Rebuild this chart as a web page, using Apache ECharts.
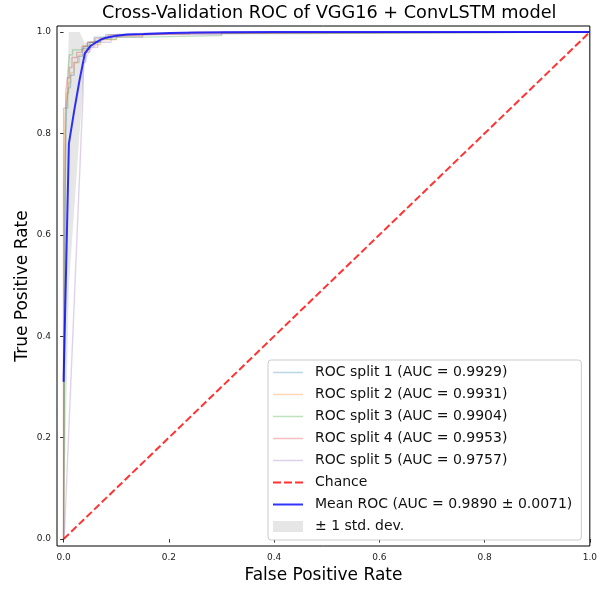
<!DOCTYPE html>
<html>
<head>
<meta charset="utf-8">
<script src="https://cdn.jsdelivr.net/npm/echarts@6/dist/echarts.min.js"></script>
<style>
  html, body { margin: 0; padding: 0; background: #ffffff; }
  #chart { width: 600px; height: 589px; }
</style>
</head>
<body>
<div id="chart"></div>
<script>
// Tick positions shared by both axes
const tickValues = [0, 0.2, 0.4, 0.6, 0.8, 1.0];

// Per-split ROC curves as [fpr, tpr] pairs
const split1 = [[0,0],[0.002,0.0],[0.002,0.62],[0.004,0.62],[0.004,0.80],[0.006,0.80],[0.006,0.86],[0.009,0.86],[0.009,0.89],[0.013,0.89],[0.013,0.915],[0.02,0.915],[0.02,0.94],[0.027,0.94],[0.027,0.952],[0.036,0.952],[0.036,0.968],[0.046,0.968],[0.046,0.98],[0.058,0.98],[0.058,0.99],[0.08,0.99],[0.08,0.995],[0.12,0.995],[0.12,0.997],[0.24,0.997],[0.24,1],[1,1]];
const split2 = [[0,0],[0,0.70],[0.003,0.70],[0.003,0.84],[0.006,0.84],[0.006,0.88],[0.01,0.88],[0.01,0.90],[0.014,0.90],[0.014,0.92],[0.02,0.92],[0.02,0.94],[0.03,0.94],[0.03,0.955],[0.04,0.955],[0.04,0.965],[0.05,0.965],[0.05,0.975],[0.07,0.975],[0.07,0.985],[0.1,0.985],[0.1,0.992],[0.15,0.992],[0.15,0.996],[0.24,0.996],[0.24,1],[1,1]];
const split3 = [[0,0],[0.003,0.6],[0.004,0.6],[0.004,0.85],[0.008,0.85],[0.008,0.915],[0.011,0.915],[0.011,0.955],[0.017,0.955],[0.017,0.965],[0.038,0.965],[0.038,0.972],[0.05,0.972],[0.05,0.98],[0.07,0.98],[0.07,0.986],[0.1,0.986],[0.1,0.99],[0.15,0.99],[0.15,0.993],[0.3,0.993],[0.3,0.997],[0.45,0.997],[0.45,1],[1,1]];
const split4 = [[0,0],[0,0.85],[0.004,0.85],[0.004,0.88],[0.007,0.88],[0.007,0.91],[0.011,0.91],[0.011,0.93],[0.016,0.93],[0.016,0.95],[0.025,0.95],[0.025,0.96],[0.035,0.96],[0.035,0.972],[0.045,0.972],[0.045,0.98],[0.06,0.98],[0.06,0.988],[0.085,0.988],[0.085,0.994],[0.13,0.994],[0.13,0.997],[0.25,0.997],[0.25,1],[1,1]];
const split5 = [[0,0],[0.002,0.02],[0.037,0.88],[0.037,0.94],[0.042,0.94],[0.042,0.96],[0.05,0.96],[0.05,0.97],[0.065,0.97],[0.065,0.98],[0.09,0.98],[0.09,0.99],[0.15,0.99],[0.15,0.995],[0.3,0.995],[0.3,1],[1,1]];

const splitNames = [
  'ROC split 1 (AUC = 0.9929)',
  'ROC split 2 (AUC = 0.9931)',
  'ROC split 3 (AUC = 0.9904)',
  'ROC split 4 (AUC = 0.9953)',
  'ROC split 5 (AUC = 0.9757)'
];
const splitColors = [
  'rgba(31,119,180,0.3)',
  'rgba(255,127,14,0.3)',
  'rgba(44,160,44,0.3)',
  'rgba(214,39,40,0.3)',
  'rgba(148,103,189,0.3)'
];

// Mean ROC and its +/- 1 std. dev. envelope
const meanFpr  = [0, 0.0101, 0.0202, 0.0303, 0.0404, 0.0505, 0.0606, 0.0707, 0.0808, 0.0909, 0.1010, 0.1212, 0.1515, 0.2020, 0.2525, 0.3030, 0.4040, 0.5051, 1.0];
const meanTpr  = [0.31, 0.78, 0.845, 0.905, 0.958, 0.972, 0.979, 0.985, 0.989, 0.991, 0.993, 0.995, 0.996, 0.998, 0.999, 0.9995, 1.0, 1.0, 1.0];
const upperTpr = [0.69, 1.0, 1.0, 1.0, 0.978, 0.98, 0.985, 0.99, 0.993, 0.995, 0.997, 0.998, 0.999, 1.0, 1.0, 1.0, 1.0, 1.0, 1.0];
const lowerTpr = [0.0, 0.50, 0.65, 0.80, 0.938, 0.963, 0.973, 0.98, 0.985, 0.987, 0.989, 0.992, 0.993, 0.996, 0.998, 0.999, 1.0, 1.0, 1.0];

const chanceLine = [[0, 0], [1, 1]];

const meanName = 'Mean ROC (AUC = 0.9890 \u00b1 0.0071)';
const bandName = '\u00b1 1 std. dev.';
const chanceName = 'Chance';

const FONT = 'DejaVu Sans';
const chart = echarts.init(document.getElementById('chart'), null, { renderer: 'canvas' });

const splitSeries = splitNames.map((name, i) => ({
  name: name,
  type: 'line',
  data: [split1, split2, split3, split4, split5][i],
  symbol: 'none',
  color: splitColors[i],
  lineStyle: { width: 1.4, color: splitColors[i] },
  z: 2
}));

const option = {
  animation: false,
  backgroundColor: '#ffffff',
  title: {
    text: 'Cross-Validation ROC of VGG16 + ConvLSTM model',
    left: 102,
    top: 0,
    padding: [4, 0, 0, 0],
    textStyle: { fontFamily: FONT, fontSize: 17.7, fontWeight: 'normal', color: '#000' }
  },
  grid: {
    left: 57, right: 10, top: 26, bottom: 40,
    show: true, borderColor: '#000', borderWidth: 1, backgroundColor: 'transparent'
  },
  xAxis: {
    type: 'value',
    min: -0.0125, max: 1.0,
    name: 'False Positive Rate',
    nameLocation: 'middle',
    nameGap: 21,
    nameMoveOverlap: false,
    nameTextStyle: { fontFamily: FONT, fontSize: 17, color: '#000' },
    axisLine: { show: false },
    axisTick: { show: true, inside: false, length: 3.5, lineStyle: { color: '#000', width: 0.8 }, customValues: tickValues },
    axisLabel: { fontFamily: FONT, fontSize: 9, color: '#222', margin: 7, customValues: tickValues, formatter: v => v.toFixed(1) },
    splitLine: { show: false }
  },
  yAxis: {
    type: 'value',
    min: -0.0137, max: 1.012,
    name: 'True Positive Rate',
    nameLocation: 'middle',
    nameGap: 26,
    nameMoveOverlap: false,
    nameTextStyle: { fontFamily: FONT, fontSize: 17, color: '#000' },
    axisLine: { show: false },
    axisTick: { show: true, inside: false, length: 3.5, lineStyle: { color: '#000', width: 0.8 }, customValues: tickValues },
    axisLabel: { fontFamily: FONT, fontSize: 9, color: '#222', margin: 6, customValues: tickValues, formatter: v => v.toFixed(1) },
    splitLine: { show: false }
  },
  legend: {
    orient: 'vertical',
    left: 268,
    top: 360,
    padding: [5, 9, 6, 5],
    itemWidth: 30,
    itemHeight: 11,
    itemGap: 7,
    selectedMode: false,
    borderColor: '#cccccc',
    borderWidth: 1,
    borderRadius: 3,
    backgroundColor: 'rgba(255,255,255,0.8)',
    textStyle: { fontFamily: FONT, fontSize: 14, color: '#111', lineHeight: 15, padding: [0, 0, 0, 7] },
    data: [
      ...splitNames.map((name, i) => ({ name: name, icon: 'path://M0,0h30v1.5h-30z', itemStyle: { color: splitColors[i] } })),
      { name: chanceName, icon: 'path://M0,0h8v2h-8z M11,0h8v2h-8z M22,0h8v2h-8z', itemStyle: { color: 'rgba(255,0,0,0.8)' } },
      { name: meanName, icon: 'path://M0,0h30v2h-30z', itemStyle: { color: 'rgba(0,0,255,0.8)' } },
      { name: bandName, icon: 'rect', itemStyle: { color: 'rgba(128,128,128,0.2)' } }
    ]
  },
  series: [
    ...splitSeries,
    {
      name: chanceName,
      type: 'line',
      data: chanceLine,
      symbol: 'none',
      color: 'rgba(255,0,0,0.8)',
      lineStyle: { width: 2, type: [7.4, 3.2], color: 'rgba(255,0,0,0.8)' },
      z: 2
    },
    {
      name: meanName,
      type: 'line',
      data: meanFpr.map((x, i) => [x, meanTpr[i]]),
      symbol: 'none',
      color: 'rgba(0,0,255,0.8)',
      lineStyle: { width: 2, color: 'rgba(0,0,255,0.8)' },
      z: 2
    },
    {
      name: bandName,
      type: 'custom',
      data: [[0, 0]],
      color: 'rgba(128,128,128,0.2)',
      z: 2,
      renderItem: function (params, api) {
        const pts = [];
        for (let i = 0; i < meanFpr.length; i++) pts.push(api.coord([meanFpr[i], upperTpr[i]]));
        for (let i = meanFpr.length - 1; i >= 0; i--) pts.push(api.coord([meanFpr[i], lowerTpr[i]]));
        return {
          type: 'polygon',
          shape: { points: pts },
          style: { fill: 'rgba(128,128,128,0.2)', stroke: 'none' }
        };
      }
    }
  ]
};

chart.setOption(option);
</script>
</body>
</html>
